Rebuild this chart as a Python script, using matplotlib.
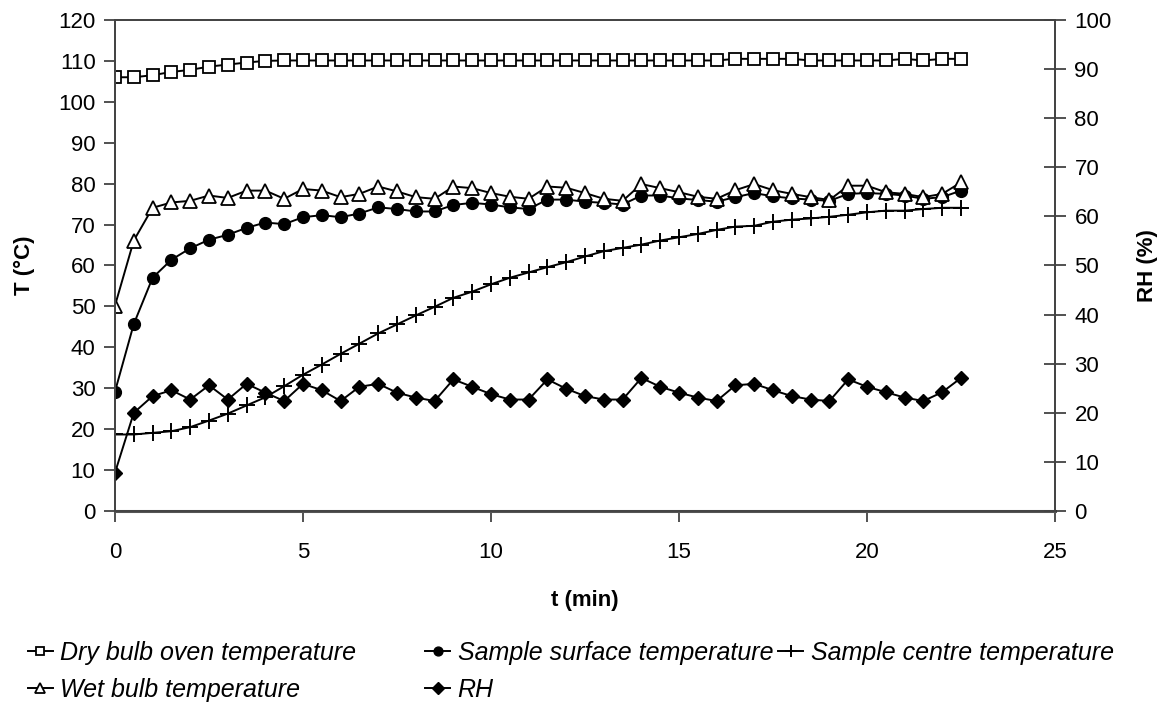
import matplotlib
matplotlib.use("Agg")
import matplotlib.pyplot as plt

plt.rcParams['font.family'] = ['Liberation Sans', 'DejaVu Sans']

# time axis, readings every half minute
t_min = [0, 0.5, 1, 1.5, 2, 2.5, 3, 3.5, 4, 4.5, 5, 5.5, 6, 6.5, 7, 7.5, 8, 8.5,
         9, 9.5, 10, 10.5, 11, 11.5, 12, 12.5, 13, 13.5, 14, 14.5, 15, 15.5,
         16, 16.5, 17, 17.5, 18, 18.5, 19, 19.5, 20, 20.5, 21, 21.5, 22, 22.5]

dry_bulb = [106.0, 106.0, 106.5, 107.3, 107.8, 108.6, 109.1, 109.6, 110.0, 110.1,
            110.1, 110.1, 110.1, 110.1, 110.1, 110.1, 110.1, 110.1, 110.1, 110.1,
            110.1, 110.1, 110.1, 110.1, 110.1, 110.1, 110.1, 110.1, 110.1, 110.1,
            110.1, 110.1, 110.1, 110.5, 110.5, 110.5, 110.5, 110.1, 110.1, 110.1,
            110.1, 110.1, 110.5, 110.1, 110.5, 110.5]

surface = [29.2, 45.7, 57.0, 61.4, 64.2, 66.3, 67.5, 69.2, 70.5, 70.1,
           71.8, 72.3, 71.8, 72.7, 74.2, 73.8, 73.2, 73.2, 74.8, 75.3,
           74.9, 74.2, 73.8, 76.1, 76.1, 75.6, 75.3, 74.9, 77.1, 77.1,
           76.4, 76.0, 75.6, 76.7, 77.7, 76.9, 76.4, 76.1, 75.8, 77.5,
           77.7, 77.5, 77.1, 76.3, 76.7, 78.3]

centre = [18.7, 18.7, 19.1, 19.5, 20.5, 22.1, 23.8, 25.8, 27.8, 30.5,
          33.3, 35.8, 38.4, 40.9, 43.4, 45.6, 47.8, 49.9, 52.1, 53.6,
          55.4, 57.0, 58.3, 59.6, 60.8, 62.2, 63.5, 64.3, 65.1, 66.1,
          66.9, 67.7, 68.7, 69.5, 69.7, 70.7, 71.2, 71.5, 71.9, 72.4,
          73.0, 73.4, 73.4, 73.8, 74.1, 74.1]

wet_bulb = [50.2, 66.1, 74.1, 75.4, 75.8, 77.1, 76.5, 78.3, 78.3, 76.3,
            78.7, 78.3, 76.7, 77.5, 79.3, 78.1, 76.7, 76.3, 79.3, 78.9,
            77.7, 76.8, 76.3, 79.3, 79.0, 77.7, 76.3, 75.8, 79.9, 78.9,
            77.9, 76.8, 76.3, 78.4, 79.9, 78.4, 77.5, 76.7, 76.0, 79.5,
            79.5, 77.9, 77.5, 76.7, 77.5, 80.3]

rh = [7.8, 20.0, 23.4, 24.6, 22.7, 25.6, 22.7, 25.9, 24.1, 22.4,
      25.9, 24.6, 22.4, 25.3, 25.9, 24.1, 23.1, 22.4, 26.8, 25.3,
      23.8, 22.7, 22.7, 26.8, 24.9, 23.4, 22.7, 22.7, 27.1, 25.3,
      24.1, 23.1, 22.4, 25.6, 25.9, 24.6, 23.4, 22.7, 22.4, 26.8,
      25.3, 24.2, 23.1, 22.4, 24.2, 27.1]

fig = plt.figure(figsize=(11.65, 7.03), dpi=100)
ax = fig.add_axes([0.0987, 0.2731, 0.8069, 0.6985])
ax2 = ax.twinx()

lw = 1.4
ms = 8.5
l_dry, = ax.plot(t_min, dry_bulb, color='black', lw=lw, marker='s', ms=ms,
                 mfc='white', mec='black', mew=1.3, label='Dry bulb oven temperature')
l_surf, = ax.plot(t_min, surface, color='black', lw=lw, marker='o', ms=ms,
                  mfc='black', mec='black', label='Sample surface temperature')
l_cen, = ax.plot(t_min, centre, color='black', lw=lw, marker='+', ms=12,
                 mew=1.4, label='Sample centre temperature')
l_wet, = ax.plot(t_min, wet_bulb, color='black', lw=lw, marker='^', ms=10,
                 mfc='white', mec='black', mew=1.3, label='Wet bulb temperature')
l_rh, = ax2.plot(t_min, rh, color='black', lw=lw, marker='D', ms=7.5,
                 mfc='black', mec='black', label='RH')

ax.set_xlim(0, 25)
ax.set_ylim(0, 120)
ax2.set_ylim(0, 100)
ax.set_xticks(range(0, 26, 5))
ax.set_yticks(range(0, 121, 10))
ax2.set_yticks(range(0, 101, 10))

for a in (ax, ax2):
    a.tick_params(labelsize=16, length=8, width=1.2, color='#333333', pad=6)
    for s in a.spines.values():
        s.set_color('#444444')
        s.set_linewidth(1.3)
ax.spines['bottom'].set_linewidth(2.2)
ax.spines['bottom'].set_color('#555555')
ax.tick_params(axis='x', pad=14)
ax2.tick_params(axis='y', direction='inout', length=16)

ax.set_xlabel('t (min)', fontsize=16, fontweight='bold', labelpad=20)
ax.set_ylabel('T (\u00b0C)', fontsize=16, fontweight='bold', labelpad=17)
ax2.set_ylabel('RH (%)', fontsize=16, fontweight='bold', labelpad=18)

# legend below the plot in three columns
cols = [([l_dry, l_wet], 0.024), ([l_surf, l_rh], 0.365), ([l_cen], 0.668)]
for handles, x0 in cols:
    fig.legend(handles=handles, labels=[h.get_label() for h in handles],
               loc='upper left', bbox_to_anchor=(x0, 0.088), frameon=False,
               borderpad=0, borderaxespad=0, handlelength=1.0, handletextpad=0.3,
               labelspacing=0.5, prop={'size': 18, 'style': 'italic'},
               markerscale=0.75)

fig.savefig('out.png', dpi=100)
